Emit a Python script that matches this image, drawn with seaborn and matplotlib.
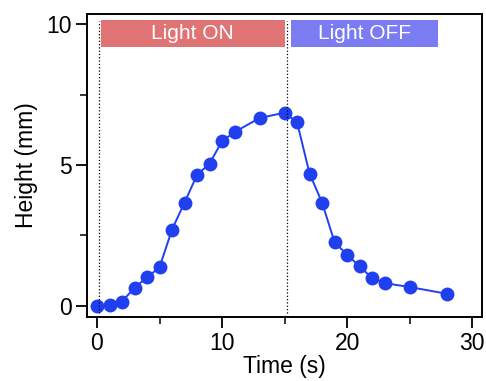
import numpy as np
import pandas as pd
import matplotlib.pyplot as plt
import seaborn as sns
from matplotlib.ticker import MultipleLocator

# Data
time_s = [0, 1, 2, 3, 4, 5, 6, 7, 8, 9, 10, 11, 13, 15,
          16, 17, 18, 19, 20, 21, 22, 23, 25, 28]
height_mm = [0.0, 0.04, 0.15, 0.65, 1.01, 1.37, 2.71, 3.67, 4.65, 5.05, 5.85, 6.17, 6.67, 6.86,
             6.52, 4.70, 3.67, 2.26, 1.82, 1.40, 0.99, 0.81, 0.67, 0.43]
phase_labels = ['Light ON', 'Light OFF']
phase_start = [0.32, 15.5]
phase_end = [15.0, 27.3]
phase_colors = ['#e07373', '#7b7bf2']
switch_times = [0.15, 15.2]

df = pd.DataFrame({'Time (s)': time_s, 'Height (mm)': height_mm})

sns.set_style('ticks', {'text.color': 'black', 'axes.labelcolor': 'black',
                        'xtick.color': 'black', 'ytick.color': 'black',
                        'axes.edgecolor': 'black'})
plt.rcParams['font.family'] = ['Liberation Sans', 'DejaVu Sans']

fig = plt.figure(figsize=(4.86, 3.81), dpi=100)
ax = fig.add_axes([0.179, 0.169, 0.813, 0.794])

sns.lineplot(data=df, x='Time (s)', y='Height (mm)', ax=ax, color='#2040f0',
             marker='o', markersize=10, markeredgewidth=0, linewidth=1.4)

for t in switch_times:
    ax.plot([t, t], [-0.24, 10.1], color='black', linestyle=':', linewidth=0.9)

for lab, s, e, c in zip(phase_labels, phase_start, phase_end, phase_colors):
    ax.fill_between([s, e], 9.2, 10.15, color=c, linewidth=0)
    ax.text((s + e) / 2, 9.66, lab, color='white', ha='center', va='center', fontsize=15)

ax.set_xlim(-0.8, 30.8)
ax.set_ylim(-0.38, 10.36)
ax.xaxis.set_major_locator(MultipleLocator(10))
ax.xaxis.set_minor_locator(MultipleLocator(5))
ax.yaxis.set_major_locator(MultipleLocator(5))
ax.yaxis.set_minor_locator(MultipleLocator(2.5))
ax.tick_params(which='major', length=8, width=1.3, labelsize=16.5, direction='out', pad=3)
ax.tick_params(which='minor', length=5, width=1.1, direction='out')
for sp in ax.spines.values():
    sp.set_visible(True)
    sp.set_linewidth(1.4)
ax.set_xlabel('Time (s)', fontsize=16.5, labelpad=0)
ax.set_ylabel('Height (mm)', fontsize=16.5, labelpad=6)

fig.savefig('out.png', dpi=100)
